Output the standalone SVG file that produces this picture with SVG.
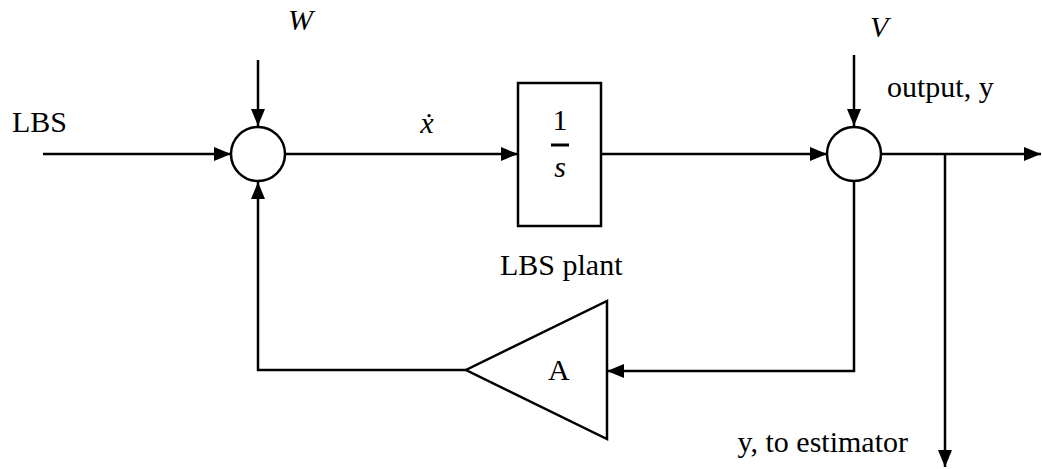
<svg xmlns="http://www.w3.org/2000/svg" width="1042" height="469" viewBox="0 0 1042 469">
<style>
.ln{fill:none;stroke:#000;stroke-width:2.5}
.sh{fill:#fff;stroke:#000;stroke-width:2.5}
</style>
<defs>
<marker id="ar" markerUnits="userSpaceOnUse" markerWidth="18" markerHeight="14" refX="17" refY="7" orient="auto">
<path d="M0,0 L17,7 L0,14 Z" fill="#000"/>
</marker>
</defs>
<g id="connectors">
<line class="ln" x1="43" y1="154" x2="231" y2="154" marker-end="url(#ar)"/>
<line class="ln" x1="258" y1="60" x2="258" y2="126" marker-end="url(#ar)"/>
<line class="ln" x1="285" y1="154" x2="518" y2="154" marker-end="url(#ar)"/>
<line class="ln" x1="601" y1="154" x2="827" y2="154" marker-end="url(#ar)"/>
<line class="ln" x1="854" y1="55" x2="854" y2="126" marker-end="url(#ar)"/>
<line class="ln" x1="881" y1="154" x2="1041" y2="154" marker-end="url(#ar)"/>
<line class="ln" x1="945" y1="154" x2="945" y2="467" marker-end="url(#ar)"/>
<polyline class="ln" points="854,181 854,371 607,371" marker-end="url(#ar)"/>
<polyline class="ln" points="466,370 258,370 258,182" marker-end="url(#ar)"/>
</g>
<g id="sum1"><circle class="sh" cx="258" cy="154" r="27"/></g>
<g id="sum2"><circle class="sh" cx="854" cy="154" r="27"/></g>
<g font-family="'Liberation Serif', 'Times New Roman', Times, serif" font-size="30" fill="#000">
<g id="plant">
<rect class="sh" x="518" y="83" width="83" height="143"/>
<text x="560" y="130" text-anchor="middle">1</text>
<line x1="551" y1="145" x2="569" y2="145" stroke="#000" stroke-width="3"/>
<text x="560" y="177" text-anchor="middle" font-style="italic">s</text>
<text x="500" y="275">LBS plant</text>
</g>
<g id="gain">
<polygon class="sh" points="607,301 607,439 466,370"/>
<text x="548" y="380">A</text>
</g>
<g id="labels">
<text x="12" y="132">LBS</text>
<text x="288" y="30" font-style="italic">W</text>
<text x="870" y="37" font-style="italic">V</text>
<text x="427" y="133" text-anchor="middle" font-style="italic">ẋ</text>
<text x="887" y="97">output, y</text>
<text x="908" y="452" text-anchor="end">y, to estimator</text>
</g>
</g>
</svg>
